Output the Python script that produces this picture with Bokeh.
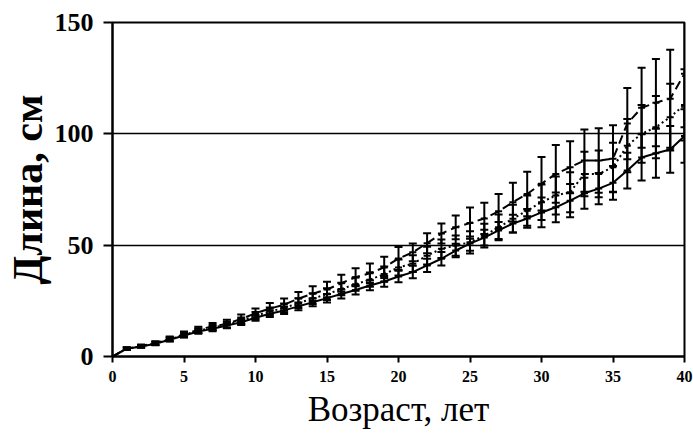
from bokeh.plotting import figure
from bokeh.models import Whisker, TeeHead, ColumnDataSource, FixedTicker
from bokeh.embed import file_html
from bokeh.resources import INLINE

age = list(range(0, 41))

solid = [0, 3.5, 4.5, 5.7, 7.5, 9.4, 11.2, 12.4, 13.9, 15.4, 17.4, 19.2, 20.7, 22.5, 24.4,
         26.2, 28.1, 29.9, 31.9, 33.7, 35.9, 37.9, 40.9, 43.9, 47.6, 50.7, 53.4, 56.6, 59.7,
         62.0, 64.7, 67.0, 70.0, 73.3, 75.4, 78.0, 83.5, 89.4, 91.3, 93.0, 99.0]
solid_sd = [0, 0.5, 0.6, 0.7, 0.8, 0.9, 1.0, 1.1, 1.2, 1.3, 1.4, 1.5, 1.6, 1.7, 1.8,
            1.9, 2.0, 2.1, 2.2, 2.4, 2.6, 2.8, 3.0, 3.0, 3.0, 3.2, 3.5, 3.8, 4.0,
            4.2, 6.7, 6.7, 7.5, 7.0, 7.0, 7.6, 8.0, 10.4, 11.0, 10.5, 12.0]

dotted = [0, 3.5, 4.6, 5.9, 7.7, 9.7, 11.6, 13.0, 14.3, 16.0, 18.3, 20.2, 21.8, 24.0, 26.0,
          28.0, 30.3, 32.5, 34.5, 37.0, 40.0, 41.7, 45.3, 48.4, 49.8, 51.3, 54.3, 58.0, 61.9,
          65.5, 69.3, 72.3, 73.8, 82.0, 82.0, 85.0, 94.7, 100.0, 103.0, 107.5, 113.0]
dotted_sd = [0, 0.5, 0.6, 0.7, 0.9, 1.0, 1.1, 1.2, 1.4, 1.5, 1.7, 1.8, 2.0, 2.2, 2.4,
             2.6, 2.8, 3.0, 3.2, 3.4, 3.6, 3.8, 4.0, 4.2, 4.5, 5.0, 5.3, 5.8, 6.2,
             6.8, 8.0, 8.5, 9.0, 10.0, 10.5, 11.0, 12.0, 13.0, 14.0, 15.0, 16.0]

dashed = [0, 3.5, 4.7, 6.0, 8.0, 10.0, 12.0, 13.5, 14.7, 16.9, 19.4, 21.5, 23.3, 26.0, 28.2,
          30.1, 32.9, 35.6, 37.4, 40.0, 44.0, 46.8, 50.9, 55.2, 58.0, 59.9, 62.0, 65.2, 69.3,
          73.0, 77.6, 82.0, 85.0, 88.0, 88.0, 88.8, 104.6, 111.7, 114.0, 115.8, 127.0]
dashed_sd = [0, 0.6, 0.7, 0.8, 1.0, 1.2, 1.4, 1.6, 1.8, 2.0, 2.2, 2.5, 2.8, 3.0, 3.3,
             3.5, 3.8, 4.0, 4.4, 4.8, 5.2, 4.0, 4.5, 4.5, 5.3, 7.0, 7.0, 7.8, 8.7,
             10.0, 12.0, 13.0, 11.7, 14.0, 14.5, 15.0, 16.0, 18.0, 19.6, 22.0, 24.0]

x_ticks = [0, 5, 10, 15, 20, 25, 30, 35, 40]
y_ticks = [0, 50, 100, 150]
x_title = "Возраст, лет"
y_title = "Длина, см"

FONT = "Liberation Serif"

p = figure(width=693, height=434, output_backend="svg", toolbar_location=None,
           x_range=(0, 40), y_range=(0, 150),
           min_border_left=112, min_border_right=9, min_border_top=22, min_border_bottom=78)
p.background_fill_color = "white"
p.border_fill_color = "white"
p.outline_line_color = "black"
p.outline_line_width = 2

p.xgrid.visible = False
p.ygrid.ticker = FixedTicker(ticks=[50, 100])
p.ygrid.grid_line_color = "black"
p.ygrid.grid_line_width = 1.5

p.xaxis.ticker = FixedTicker(ticks=x_ticks)
p.yaxis.ticker = FixedTicker(ticks=y_ticks)
for ax in (p.xaxis, p.yaxis):
    ax.axis_line_color = "black"
    ax.axis_line_width = 2
    ax.major_tick_line_color = "black"
    ax.major_tick_line_width = 2
    ax.major_tick_in = 0
    ax.minor_tick_line_color = None
    ax.major_label_text_font = FONT
    ax.major_label_text_font_style = "bold"
    ax.major_label_text_color = "black"
    ax.axis_label_text_font = FONT
    ax.axis_label_text_color = "black"

p.yaxis.major_tick_out = 9
p.yaxis.major_label_text_font_size = "26px"
p.yaxis.major_label_standoff = 10
p.yaxis.axis_label = y_title
p.yaxis.axis_label_text_font_size = "42px"
p.yaxis.axis_label_text_font_style = "bold"
p.yaxis.axis_label_standoff = 1

p.xaxis.major_tick_out = 6
p.xaxis.major_label_text_font_size = "16px"
p.xaxis.major_label_standoff = 8
p.xaxis.axis_label = x_title
p.xaxis.axis_label_text_font_size = "35px"
p.xaxis.axis_label_text_font_style = "normal"
p.xaxis.axis_label_standoff = 5

series = [(solid, solid_sd, "solid"), (dotted, dotted_sd, "2 3"), (dashed, dashed_sd, "9 5")]
for vals, sd, dash in series:
    src = ColumnDataSource(dict(x=age, y=vals,
                                lo=[v - s for v, s in zip(vals, sd)],
                                hi=[v + s for v, s in zip(vals, sd)]))
    w = Whisker(source=src, base="x", lower="lo", upper="hi",
                line_color="black", line_width=2,
                upper_head=TeeHead(size=8, line_color="black", line_width=2),
                lower_head=TeeHead(size=8, line_color="black", line_width=2))
    p.add_layout(w)
    p.line("x", "y", source=src, line_color="black", line_width=2, line_dash=dash)
    p.scatter("x", "y", source=src, marker="dash", size=7, line_color="black", line_width=2)

open("out.html", "w").write(file_html(p, INLINE))
